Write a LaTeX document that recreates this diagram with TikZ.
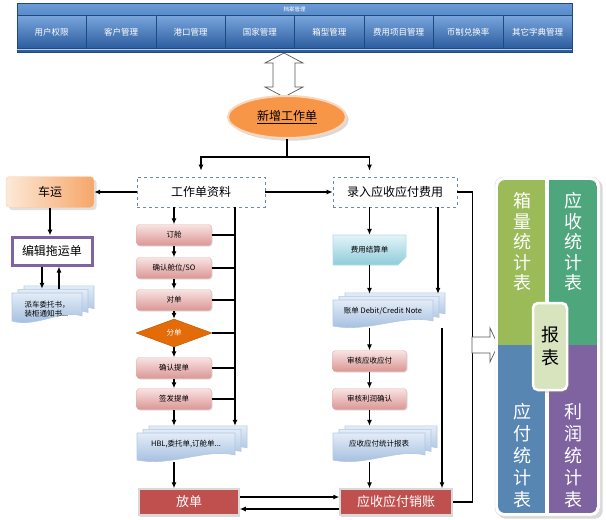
\documentclass[tikz,border=0pt]{standalone}
\usepackage{fontspec}
\setmainfont{Noto Sans CJK SC}
\usetikzlibrary{shapes.geometric,arrows.meta,shadows}

\definecolor{barhi}{HTML}{6A9BD8}
\definecolor{barlo}{HTML}{2B5C9E}
\definecolor{barline}{HTML}{1F4A80}
\definecolor{ovalfill}{HTML}{F79646}
\definecolor{ovalrim}{HTML}{FAD7BC}
\definecolor{dashgray}{HTML}{6F8AA6}
\definecolor{peachhi}{HTML}{FDE9D9}
\definecolor{peachlo}{HTML}{F6A668}
\definecolor{tuoline}{HTML}{8064A2}
\definecolor{pinkhi}{HTML}{F9E3E3}
\definecolor{pinklo}{HTML}{DA9694}
\definecolor{pinkline}{HTML}{E2B0AF}
\definecolor{splitfill}{HTML}{E36C09}
\definecolor{splitline}{HTML}{B45706}
\definecolor{dochi}{HTML}{E3ECF7}
\definecolor{doclo}{HTML}{9BB8DC}
\definecolor{docline}{HTML}{B3C8E3}
\definecolor{cyanhi}{HTML}{E2F4F8}
\definecolor{cyanlo}{HTML}{8ECCDA}
\definecolor{cyanline}{HTML}{B3DCE6}
\definecolor{darkred}{HTML}{C0504D}
\definecolor{repgreen}{HTML}{9BBB59}
\definecolor{repteal}{HTML}{4EA67C}
\definecolor{repblue}{HTML}{5786B3}
\definecolor{reppurple}{HTML}{7F63A1}
\definecolor{repcenter}{HTML}{D8E4BE}

\newcommand{\smallfont}{\fontsize{7.5}{9}\selectfont}
\newcommand{\midfont}{\fontsize{12}{14}\selectfont}
\newcommand{\docshape}[5]{%
  \path[#5] (#1,#2) -- (#3,#2) -- (#3,#4-7)
    .. controls ({#3-0.3*(#3-#1)},{#4-14}) and ({#1+0.35*(#3-#1)},{#4+5}) .. (#1,#4-2) -- cycle;}
\newcommand{\multidoc}[5]{%
  \foreach \s in {12,6,0}{%
    \begin{scope}[shift={(\s,-\s*0.6)}]\docshape{#1}{#2}{#3}{#4}{#5}\end{scope}}}

\begin{document}
\begin{tikzpicture}[x=1pt,y=-1pt,>={Latex[length=6pt,width=5pt]},
  cell/.style={minimum width=69.4pt,minimum height=33pt,inner sep=0pt,top color=barhi!90!white,bottom color=barlo,draw=barline,text=white,font=\fontsize{8.5}{10}\selectfont},
  dashbox/.style={draw=dashgray,dashed,line width=0.7pt,fill=white,minimum height=30pt,inner sep=0pt,font=\midfont},
  stepbox/.style={rounded corners=3pt,top color=pinkhi,bottom color=pinklo,draw=pinkline,minimum width=75pt,minimum height=21pt,inner sep=0pt,font=\smallfont,drop shadow={opacity=0.25,shadow xshift=1pt,shadow yshift=-1pt}},
  endbox/.style={fill=darkred,draw=white!85!black,line width=1.5pt,minimum height=26pt,inner sep=0pt,text=white,font=\fontsize{13}{15}\selectfont,drop shadow={opacity=0.3,shadow xshift=1pt,shadow yshift=-1.5pt}},
  doctext/.style={inner sep=0pt,font=\smallfont},
  docblue/.style={top color=dochi,bottom color=doclo,draw=docline,line width=0.6pt},
  doccyan/.style={top color=cyanhi,bottom color=cyanlo,draw=cyanline,line width=0.6pt},
  flow/.style={line width=1.1pt},
  vtext/.style={align=center,text=white,inner sep=0pt}]
  \useasboundingbox (0,0) rectangle (606,520);

  \node[top color=barhi,bottom color=barlo,draw=barline,minimum width=555pt,minimum height=49pt,inner sep=0pt] (arch) at (294.5,27.5) {};
  \node[text=white,font=\fontsize{5.5}{6}\selectfont] (archt) at (294.5,9) {档案管理};
  \foreach \lbl [count=\i] in {用户权限,客户管理,港口管理,国家管理,箱型管理,费用项目管理,币制兑换率,其它字典管理}
    \node[cell] (cell\i) at ({17+69.4*(\i-0.5)},32) {\lbl};
  \draw[barhi!50!white,line width=1pt] ([yshift=3pt]arch.south west) -- ([yshift=3pt]arch.south east);

  \draw[gray!70!black,fill=white,line width=0.7pt] (284,53) -- (303,63) -- (295,63) -- (295,87) -- (303,87)
    -- (284,97) -- (265,87) -- (273,87) -- (273,63) -- (265,63) -- cycle;
  \node[ellipse,fill=ovalfill,draw=ovalrim,line width=2pt,minimum width=118pt,minimum height=42pt,
    drop shadow={opacity=0.3},font=\midfont] (xg) at (287,117) {\underline{新增工作单}};

  \node[dashbox,minimum width=128pt] (gzd) at (201,192) {工作单资料};
  \node[dashbox,minimum width=124pt] (lr) at (395,192) {录入应收应付费用};
  \node[rounded corners=4pt,left color=peachhi,right color=peachlo,draw=peachlo!60,minimum width=88pt,
    minimum height=31pt,font=\midfont,drop shadow={opacity=0.25}] (cy) at (50,192) {车运};
  \node[draw=tuoline,line width=3pt,fill=white,minimum width=80pt,minimum height=28pt,font=\midfont] (tyd) at (52,251) {编辑拖运单};
  \multidoc{12}{293}{82}{323}{docblue}
  \node[doctext,align=left,minimum width=70pt,minimum height=40pt] (pcdoc) at (47,309) {派车委托书，\\装柜通知书...};

  \node[stepbox] (dc) at (174,235) {订舱};
  \node[stepbox] (qr) at (174,268) {确认舱位/SO};
  \node[stepbox] (dd) at (174,300) {对单};
  \node[diamond,fill=splitfill,draw=splitline,minimum width=76pt,minimum height=28pt,inner sep=0pt,
    text=white,font=\smallfont] (fd) at (174,333) {分单};
  \node[stepbox] (qt) at (174,368) {确认提单};
  \node[stepbox] (qf) at (174,399) {签发提单};
  \multidoc{137}{433}{235}{462}{docblue}
  \node[doctext,minimum width=98pt,minimum height=36pt] (hbl) at (186,444) {HBL,委托单,订舱单...};
  \node[endbox,minimum width=100pt] (fangdan) at (189,502) {放单};

  \path[doccyan] (333,235) -- (406,235) -- (406,257) -- (398,265) -- (333,265) -- cycle;
  \node[doctext,minimum width=73pt,minimum height=30pt] (fy) at (369.5,250) {费用结算单};
  \multidoc{333}{300}{433}{328}{docblue}
  \node[doctext,minimum width=100pt,minimum height=34pt] (zd) at (383,311) {账单 Debit/Credit Note};
  \node[stepbox,minimum width=74pt] (sh1) at (369.5,361) {审核应收应付};
  \node[stepbox,minimum width=74pt] (sh2) at (369.5,399) {审核利润确认};
  \multidoc{333}{433}{425}{462}{docblue}
  \node[doctext,minimum width=92pt,minimum height=36pt] (bb) at (379,444) {应收应付统计报表};
  \node[endbox,minimum width=112pt] (xz) at (396,502) {应收应付销账};

  \coordinate (split) at (287,157);
  \draw[flow] (xg.south) -- (split);
  \draw[flow,->,shorten >=6pt] (split) -| (gzd.north);
  \draw[flow,->,shorten >=6pt] (split) -| (fy |- lr.north);
  \draw[flow,->] (gzd.west) -- (cy.east);
  \draw[flow,->] (gzd.east) -- (lr.west);
  \draw[flow,->] (cy.south) -- (cy.south |- tyd.north);
  \draw[flow,->] ([xshift=-10pt]tyd.south) -- ([xshift=-10pt]tyd.south |- pcdoc.north);
  \draw[flow,->] ([xshift=7pt]tyd.south |- pcdoc.north) -- ([xshift=7pt]tyd.south);

  \draw[flow,->] (gzd.south -| dc) -- (dc.north);
  \draw[flow,->] (dc) -- (qr);
  \draw[flow,->] (qr) -- (dd);
  \draw[flow,->] (dd) -- (fd);
  \draw[flow,->] (fd) -- (qt);
  \draw[flow,->] (qt) -- (qf);
  \draw[flow,->] (qf.south) -- (qf.south |- hbl.north);
  \draw[flow,->] (dc |- hbl.south) -- (dc |- fangdan.north);
  \coordinate (trunk) at ([xshift=34pt]gzd.south);
  \draw[flow,->] (trunk) -- (trunk |- hbl.north);
  \foreach \n in {dc,qr,dd,fd,qt,qf}
    \draw[flow] (\n.east) -- (\n.east -| trunk);

  \draw[flow,->] (lr.south -| fy) -- (fy.north);
  \draw[flow,->] (fy.south) -- (fy |- zd.north);
  \draw[flow,->] (fy |- zd.south) -- (sh1.north);
  \draw[flow,->] (sh1) -- (sh2);
  \draw[flow,->] (sh2.south) -- (fy |- bb.north);
  \draw[flow,->] (fy |- bb.south) -- (fy |- xz.north);
  \draw[flow,->] ([xshift=43pt]lr.south) -- ([xshift=43pt]lr.south |- zd.north);
  \draw[flow,->] ([xshift=59pt]zd.south) -- ([xshift=59pt]zd.south |- xz.north);
  \draw[flow] (lr.east) -- ++(15,0) |- (xz.east);
  \draw[flow,->] ([yshift=5pt]fangdan.east) -- ([yshift=5pt]fangdan.east -| xz.west);
  \draw[flow,->] ([yshift=-7pt]xz.west) -- ([yshift=-7pt]xz.west -| fangdan.east);

  \draw[gray!70!black,fill=white,line width=0.7pt] (472,337) -- (490,337) -- (490,328) -- (498,345)
    -- (490,362) -- (490,353) -- (472,353) -- cycle;
  \path[fill=white,draw=gray!30,rounded corners=8pt,drop shadow={opacity=0.3}] (495,177) rectangle (600,516);
  \begin{scope}
    \clip[rounded corners=7pt] (498,180) rectangle (597,513);
    \fill[repgreen] (498,180) rectangle (545,345);
    \fill[repteal] (549,180) rectangle (597,345);
    \fill[repblue] (498,345) rectangle (545,513);
    \fill[reppurple] (549,345) rectangle (597,513);
  \end{scope}
  \node[vtext,font=\fontsize{18}{20.5}\selectfont] (xl) at (522,242) {箱\\量\\统\\计\\表};
  \node[vtext,font=\fontsize{18}{20.5}\selectfont] (ys) at (573,242) {应\\收\\统\\计\\表};
  \node[vtext,font=\fontsize{18}{22}\selectfont] (yf) at (522,456) {应\\付\\统\\计\\表};
  \node[vtext,font=\fontsize{18}{22}\selectfont] (lrt) at (573,456) {利\\润\\统\\计\\表};
  \node[rounded corners=5pt,fill=repcenter,draw=white,line width=2.5pt,minimum width=34pt,minimum height=87pt,
    align=center,inner sep=0pt,font=\fontsize{18}{23}\selectfont,drop shadow={opacity=0.3}] (bbox) at (550,346.5) {报\\表};
\end{tikzpicture}
\end{document}
